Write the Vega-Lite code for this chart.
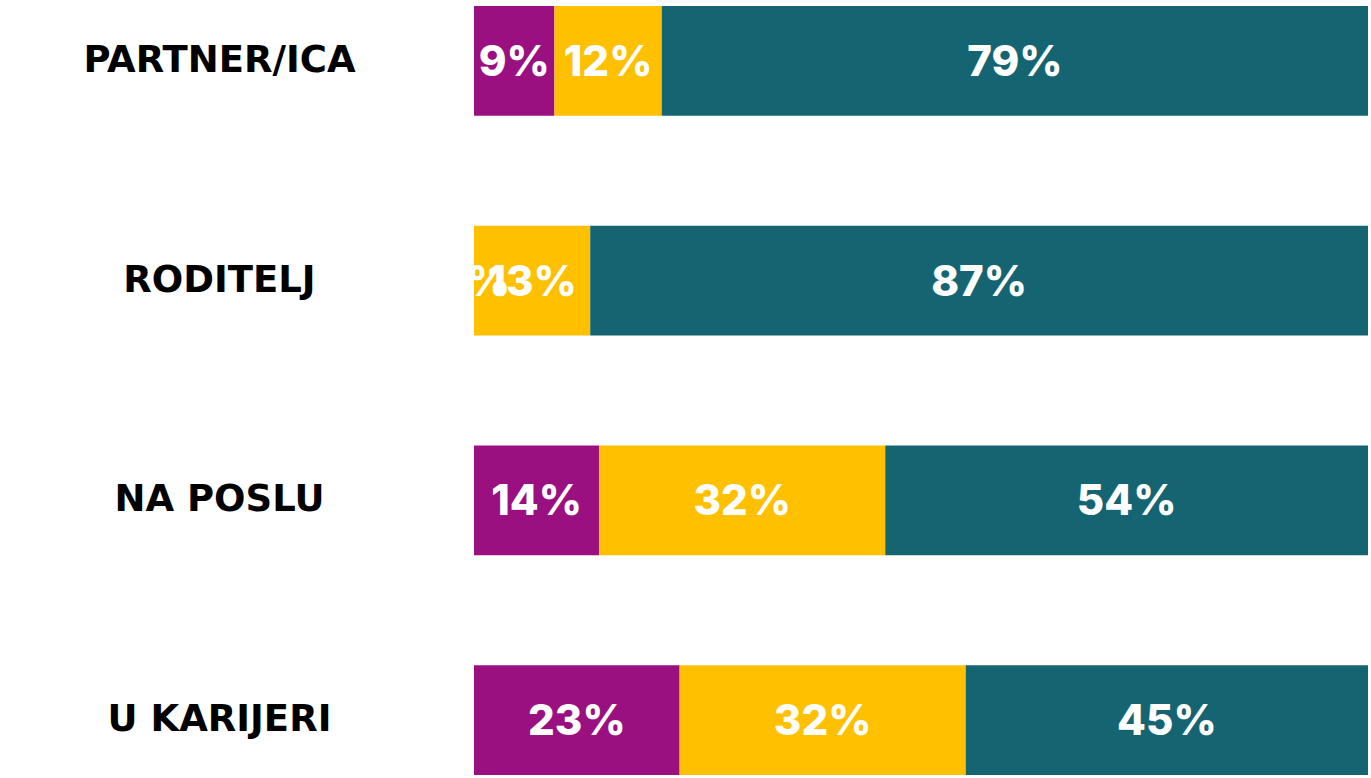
{
  "$schema": "https://vega.github.io/schema/vega-lite/v6.json",
  "width": 894,
  "height": 781,
  "autosize": {"type": "none"},
  "padding": {"top": 0, "left": 474, "right": 3, "bottom": 0},
  "background": "white",
  "config": {"view": {"stroke": null}},
  "data": {"values": [
    {"cat": "PARTNER/ICA", "grp": "A", "ord": 1, "val": 9},
    {"cat": "PARTNER/ICA", "grp": "B", "ord": 2, "val": 12},
    {"cat": "PARTNER/ICA", "grp": "C", "ord": 3, "val": 79},
    {"cat": "RODITELJ", "grp": "A", "ord": 1, "val": 0},
    {"cat": "RODITELJ", "grp": "B", "ord": 2, "val": 13},
    {"cat": "RODITELJ", "grp": "C", "ord": 3, "val": 87},
    {"cat": "NA POSLU", "grp": "A", "ord": 1, "val": 14},
    {"cat": "NA POSLU", "grp": "B", "ord": 2, "val": 32},
    {"cat": "NA POSLU", "grp": "C", "ord": 3, "val": 54},
    {"cat": "U KARIJERI", "grp": "A", "ord": 1, "val": 23},
    {"cat": "U KARIJERI", "grp": "B", "ord": 2, "val": 32},
    {"cat": "U KARIJERI", "grp": "C", "ord": 3, "val": 45}
  ]},
  "transform": [
    {"stack": "val", "groupby": ["cat"], "sort": [{"field": "ord"}], "as": ["x0", "x1"]},
    {"calculate": "(datum.x0 + datum.x1) / 2", "as": "xm"},
    {"calculate": "datum.val + '%'", "as": "lbl"}
  ],
  "encoding": {
    "y": {
      "field": "cat", "type": "nominal",
      "sort": ["PARTNER/ICA", "RODITELJ", "NA POSLU", "U KARIJERI"],
      "scale": {"paddingInner": 0.5, "paddingOuter": 0.0273},
      "axis": {
        "title": null, "domain": false, "ticks": false,
        "labelAlign": "center", "labelPadding": 255,
        "labelFont": "DejaVu Sans", "labelFontWeight": "bold", "labelFontSize": 37,
        "labelColor": "#000000", "labelLimit": 400
      }
    }
  },
  "layer": [
    {
      "mark": {"type": "bar"},
      "encoding": {
        "x": {"field": "x0", "type": "quantitative", "scale": {"domain": [0, 100], "nice": false}, "axis": null},
        "x2": {"field": "x1"},
        "color": {
          "field": "grp", "type": "nominal", "legend": null,
          "scale": {"domain": ["A", "B", "C"], "range": ["#9A1080", "#FFC000", "#146571"]}
        }
      }
    },
    {
      "mark": {"type": "text", "font": "Inter", "fontWeight": 800, "fontSize": 42, "color": "white", "align": "center", "baseline": "middle", "dy": 2},
      "encoding": {
        "x": {"field": "xm", "type": "quantitative"},
        "text": {"field": "lbl"}
      }
    }
  ]
}
